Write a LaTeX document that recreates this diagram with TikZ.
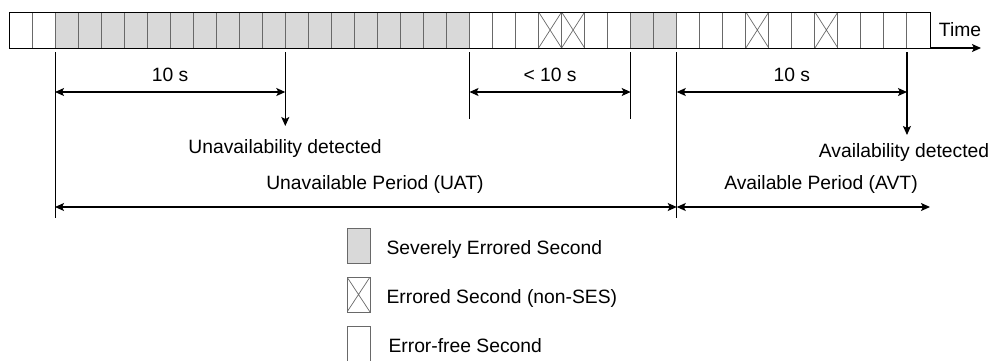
\documentclass[tikz,border=0pt]{standalone}
\usepackage{fontspec}
\setmainfont{Liberation Sans}
\usetikzlibrary{arrows.meta}
\definecolor{sesgray}{RGB}{217,217,217}
\definecolor{edgegray}{RGB}{105,105,105}

\tikzset{
  sec/.style={draw=edgegray, line width=1pt, minimum width=23.025pt, minimum height=36pt,
    inner sep=0pt, outer sep=0pt, anchor=north west},
  ses/.style={sec, fill=sesgray},
  es/.style={sec, path picture={\draw[edgegray, line width=0.7pt]
    (path picture bounding box.north west) -- (path picture bounding box.south east)
    (path picture bounding box.north east) -- (path picture bounding box.south west);}},
  guide/.style={line width=1pt},
  dimline/.style={line width=1.2pt,
    {Stealth[length=9pt,width=8pt,inset=2pt]}-{Stealth[length=9pt,width=8pt,inset=2pt]}},
  downarrow/.style={line width=1.2pt, -{Stealth[length=9pt,width=8pt,inset=2pt]}},
}

\begin{document}
\begin{tikzpicture}[x=1pt, y=-1pt, font=\fontsize{19.3}{23}\selectfont]
    % khung 993 x 360, toa do theo pixel (y huong xuong)
    \useasboundingbox (0,0) rectangle (993,360);
    \clip (0,0) rectangle (993,360);

    % 1. Day 40 giay
    \foreach \i in {0,1,20,21,22,25,26,29,30,31,33,34,36,37,38,39}
        \node[sec] (c\i) at ({9+23.025*\i},12) {};
    \foreach \i in {2,...,19}
        \node[ses] (c\i) at ({9+23.025*\i},12) {};
    \foreach \i in {27,28}
        \node[ses] (c\i) at ({9+23.025*\i},12) {};
    \foreach \i in {23,24,32,35}
        \node[es] (c\i) at ({9+23.025*\i},12) {};
    \draw[line width=1pt] (c0.north west) rectangle (c39.south east);

    % 2. Truc thoi gian
    \coordinate (tend) at (981,48);
    \draw[downarrow] (c39.south east) -- (tend);
    \node[anchor=base] (tm) at (960,36) {Time};

    % 3. Cac muc doc
    \coordinate (lvtop) at (0,52);
    \coordinate (lvdim) at (0,92);
    \coordinate (lvgap) at (0,119);
    \coordinate (lvund) at (0,126);
    \coordinate (lvavd) at (0,135);
    \coordinate (lvper) at (0,207);
    \coordinate (lvbot) at (0,218);

    \draw[guide] (c2.south west |- lvtop) -- (c2.south west |- lvbot);
    \draw[downarrow] (c12.south west |- lvtop) -- (c12.south west |- lvund);
    \draw[guide] (c20.south west |- lvtop) -- (c20.south west |- lvgap);
    \draw[guide] (c27.south west |- lvtop) -- (c27.south west |- lvgap);
    \draw[guide] (c29.south west |- lvtop) -- (c29.south west |- lvbot);
    \draw[downarrow] (c39.south west |- lvtop) -- (c39.south west |- lvavd);

    % 4. Khoang thoi gian
    \draw[dimline] (c2.south west |- lvdim) -- (c12.south west |- lvdim)
        node[midway, above=9.5pt, inner sep=0pt] (tu10) {10 s};
    \draw[dimline] (c20.south west |- lvdim) -- (c27.south west |- lvdim)
        node[midway, above=9.5pt, inner sep=0pt] (tlt10) {< 10 s};
    \draw[dimline] (c29.south west |- lvdim) -- (c39.south west |- lvdim)
        node[midway, above=9.5pt, inner sep=0pt] (ta10) {10 s};

    % 5. Hai giai doan
    \draw[dimline] (c2.south west |- lvper) -- (c29.south west |- lvper);
    \draw[dimline] (c29.south west |- lvper) -- (c39.south east |- lvper);

    % 6. Nhan
    \node[anchor=base] (tund) at (285,153) {Unavailability detected};
    \node[anchor=base] (tavd) at (904,157) {Availability detected};
    \node[anchor=base] (tuat) at (375,189) {Unavailable Period (UAT)};
    \node[anchor=base] (tavt) at (821,189) {Available Period (AVT)};

    % 7. Chu giai
    \node[ses, minimum height=35pt] (lses) at (347,228) {};
    \node[es, minimum height=35pt] (les) at (347,277) {};
    \node[sec, minimum height=35pt] (lefs) at (347,326) {};
    \node[anchor=base west] (tses) at (383,254) {Severely Errored Second};
    \node[anchor=base west] (tes) at (383,303) {Errored Second (non-SES)};
    \node[anchor=base west] (tefs) at (385,352) {Error-free Second};

\end{tikzpicture}
\end{document}
